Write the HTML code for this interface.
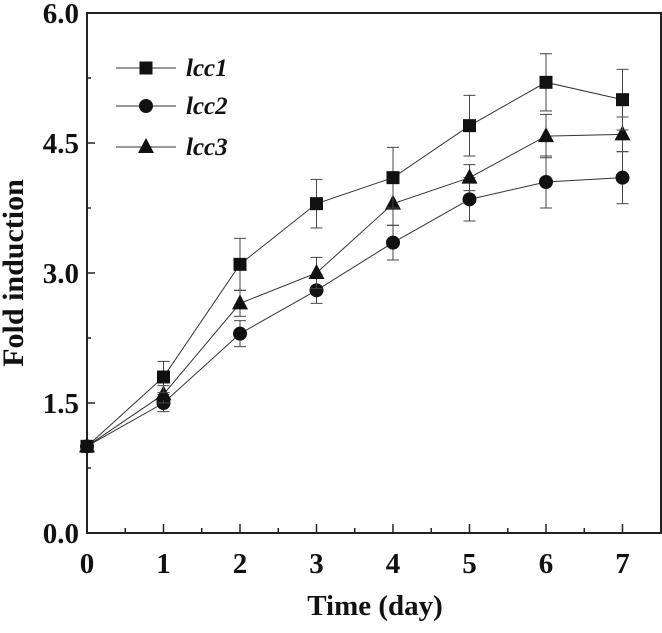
<!DOCTYPE html>
<html><head><meta charset="utf-8"><style>
html,body{margin:0;padding:0;background:#fff;}
text{font-family:"Liberation Serif",serif;font-weight:bold;fill:#111;}
</style></head><body>
<svg id="chart" width="662" height="628" xmlns="http://www.w3.org/2000/svg">
<g id="g"></g>
</svg>
<script>
const days=[0,1,2,3,4,5,6,7];
const lcc1=[1,1.8,3.1,3.8,4.1,4.7,5.2,5.0];
const lcc1Err=[0,0.18,0.3,0.28,0.35,0.35,0.33,0.35];
const lcc2=[1,1.5,2.3,2.8,3.35,3.85,4.05,4.1];
const lcc2Err=[0,0.1,0.15,0.15,0.2,0.25,0.3,0.3];
const lcc3=[1,1.6,2.65,3.0,3.8,4.1,4.58,4.6];
const lcc3Err=[0,0.1,0.15,0.18,0.25,0.15,0.25,0.2];
const yTicks=["0.0","1.5","3.0","4.5","6.0"];
const xTicks=["0","1","2","3","4","5","6","7"];

const L=87,R=661,T=13,B=533;
const x=v=>L+v*76.5;
const y=v=>B-v*(B-T)/6;
const g=document.getElementById('g');
const NS="http://www.w3.org/2000/svg";
function mk(tag,a,name){const e=document.createElementNS(NS,tag);for(const k in a)e.setAttribute(k,a[k]);


g.appendChild(e);return e;}

mk('rect',{x:L,y:T,width:R-L,height:B-T,fill:'none',stroke:'#222','stroke-width':2},'plot-frame');
yTicks.forEach((t,i)=>{const v=+t;
 mk('line',{x1:L,x2:L+8,y1:y(v),y2:y(v),stroke:'#222','stroke-width':1.5},'y-tick');
 if(i<yTicks.length-1) mk('line',{x1:L,x2:L+4,y1:y(v+0.75),y2:y(v+0.75),stroke:'#222','stroke-width':1.5},'y-minor-tick');
 const tx=mk('text',{x:L-8,y:y(v)+10,'text-anchor':'end','font-size':29},'y-tick-label');tx.textContent=t;});
xTicks.forEach((t,i)=>{const v=+t;
 mk('line',{x1:x(v),x2:x(v),y1:B,y2:B-9,stroke:'#222','stroke-width':1.5},'x-tick');
 if(i<xTicks.length-1) mk('line',{x1:x(v+0.5),x2:x(v+0.5),y1:B,y2:B-5,stroke:'#222','stroke-width':1.5},'x-minor-tick');
 const tx=mk('text',{x:x(v),y:B+40,'text-anchor':'middle','font-size':29},'x-tick-label');tx.textContent=t;});
let t1=mk('text',{x:375,y:615,'text-anchor':'middle','font-size':29},'x-axis-title');t1.textContent='Time (day)';
let t2=mk('text',{x:0,y:0,'text-anchor':'middle','font-size':30,transform:'translate(23,273) rotate(-90)'},'y-axis-title');t2.textContent='Fold induction';

function marker(type,cx,cy,name){
 if(type==='sq') return mk('rect',{x:cx-6.5,y:cy-6.5,width:13,height:13,fill:'#111'},name);
 if(type==='ci') return mk('circle',{cx:cx,cy:cy,r:7,fill:'#111'},name);
 return mk('polygon',{points:`${cx},${cy-9} ${cx-8},${cy+6} ${cx+8},${cy+6}`,fill:'#111'},name);
}
function series(vals,errs,type,name){
 mk('polyline',{points:days.map((d,i)=>x(d)+','+y(vals[i])).join(' '),fill:'none',stroke:'#333','stroke-width':1},name+'-line');
 days.forEach((d,i)=>{if(errs[i]>0){const cx=x(d);
  mk('line',{x1:cx,x2:cx,y1:y(vals[i]+errs[i]),y2:y(vals[i]-errs[i]),stroke:'#444','stroke-width':1},name+'-error-bar');
  [vals[i]+errs[i],vals[i]-errs[i]].forEach(v=>mk('line',{x1:cx-6,x2:cx+6,y1:y(v),y2:y(v),stroke:'#444','stroke-width':1},name+'-error-cap'));}
  marker(type,x(d),y(vals[i]),name+'-point');});
}
series(lcc2,lcc2Err,'ci','lcc2');
series(lcc3,lcc3Err,'tr','lcc3');
series(lcc1,lcc1Err,'sq','lcc1');
[['lcc1','sq',68],['lcc2','ci',106],['lcc3','tr',147]].forEach(([n,tp,ly])=>{
 mk('line',{x1:116,x2:176,y1:ly,y2:ly,stroke:'#333','stroke-width':1},'legend-line-'+n);
 marker(tp,146,ly,'legend-marker-'+n);
 const tx=mk('text',{x:186,y:ly+8,'font-size':25,'font-style':'italic'},'legend-label-'+n);tx.textContent=n;});
</script>
</body></html>
